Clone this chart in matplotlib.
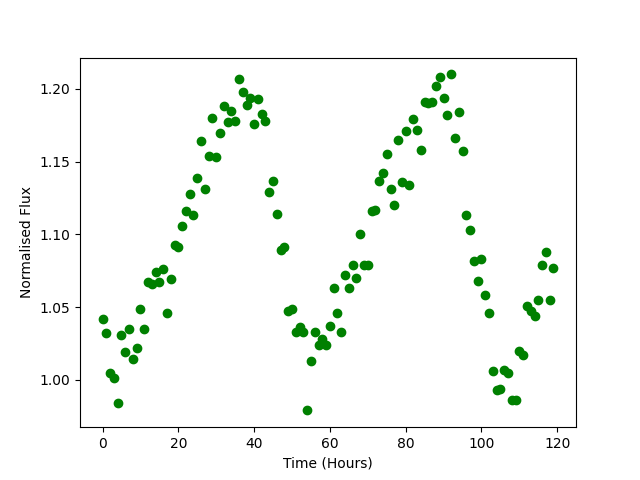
import matplotlib
matplotlib.use("Agg")
import matplotlib.pyplot as plt
import numpy as np

time_hours = list(range(120))
flux = [
    1.042, 1.032, 1.005, 1.001, 0.984, 1.031, 1.019, 1.035, 1.014, 1.022,
    1.049, 1.035, 1.067, 1.066, 1.074, 1.067, 1.076, 1.046, 1.069, 1.093,
    1.091, 1.106, 1.116, 1.128, 1.113, 1.139, 1.164, 1.131, 1.154, 1.180,
    1.153, 1.170, 1.188, 1.177, 1.185, 1.178, 1.207, 1.198, 1.189, 1.194,
    1.176, 1.193, 1.183, 1.178, 1.129, 1.137, 1.114, 1.089, 1.091, 1.047,
    1.049, 1.033, 1.036, 1.033, 0.979, 1.013, 1.033, 1.024, 1.028, 1.024,
    1.037, 1.063, 1.046, 1.033, 1.072, 1.063, 1.079, 1.070, 1.100, 1.079,
    1.079, 1.116, 1.117, 1.137, 1.142, 1.155, 1.131, 1.120, 1.165, 1.136,
    1.171, 1.134, 1.179, 1.172, 1.158, 1.191, 1.190, 1.191, 1.202, 1.208,
    1.194, 1.182, 1.210, 1.166, 1.184, 1.157, 1.113, 1.103, 1.082, 1.068,
    1.083, 1.058, 1.046, 1.006, 0.993, 0.994, 1.007, 1.005, 0.986, 0.986,
    1.020, 1.017, 1.051, 1.047, 1.044, 1.055, 1.079, 1.088, 1.055, 1.077,
]

fig, ax = plt.subplots(figsize=(6.4, 4.8), dpi=100)
ax.plot(time_hours, flux, 'o', color='green')
ax.set_xlabel('Time (Hours)')
ax.set_ylabel('Normalised Flux')
fig.savefig('out.png')
